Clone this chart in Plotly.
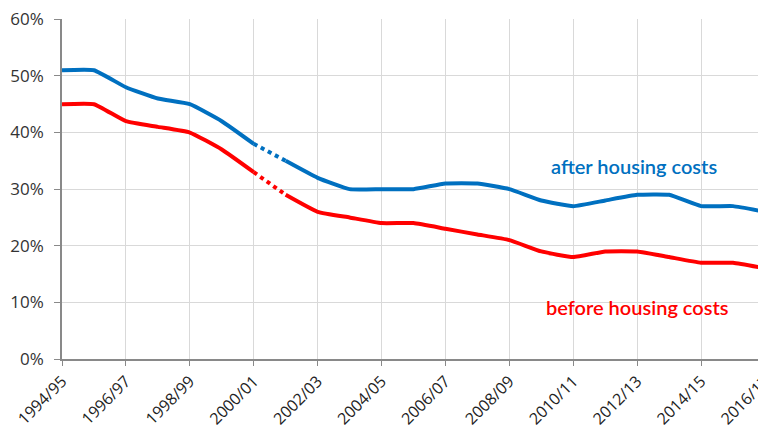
import plotly.graph_objects as go

years = ["1994/95","1995/96","1996/97","1997/98","1998/99","1999/00","2000/01","2001/02",
         "2002/03","2003/04","2004/05","2005/06","2006/07","2007/08","2008/09","2009/10",
         "2010/11","2011/12","2012/13","2013/14","2014/15","2015/16","2016/17"]
ahc = [51, 51, 48, 46, 45, 42, 38, 35, 32, 30, 30, 30, 31, 31, 30, 28, 27, 28, 29, 29, 27, 27, 26]
bhc = [45, 45, 42, 41, 40, 37, 33, 29, 26, 25, 24, 24, 23, 22, 21, 19, 18, 19, 19, 18, 17, 17, 16]
tick_labels = years[::2]
y_ticks = [0, 10, 20, 30, 40, 50, 60]
break_start, break_end = 6, 7  # dotted segment between 2000/01 and 2001/02

BLUE = "#0070C0"
RED = "#FF0000"

fig = go.Figure()

def add_series(vals, color):
    seg1 = [v if i <= break_start else None for i, v in enumerate(vals)]
    seg2 = [v if break_start <= i <= break_end else None for i, v in enumerate(vals)]
    seg3 = [v if i >= break_end else None for i, v in enumerate(vals)]
    fig.add_trace(go.Scatter(x=years, y=seg1, mode="lines",
                             line=dict(color=color, width=4, shape="spline", smoothing=0.4),
                             showlegend=False, hoverinfo="skip"))
    fig.add_trace(go.Scatter(x=years, y=seg2, mode="lines",
                             line=dict(color=color, width=4, dash="dot"),
                             showlegend=False, hoverinfo="skip"))
    fig.add_trace(go.Scatter(x=years, y=seg3, mode="lines",
                             line=dict(color=color, width=4, shape="spline", smoothing=0.4),
                             showlegend=False, hoverinfo="skip"))

add_series(ahc, BLUE)
add_series(bhc, RED)

fig.add_annotation(x=17.9, y=34.0, text="after housing costs", showarrow=False,
                   font=dict(family="Lato", size=20, color=BLUE, weight=600))
fig.add_annotation(x=18.0, y=9.2, text="before housing costs", showarrow=False,
                   font=dict(family="Lato", size=20, color=RED, weight=600))

# page body has an 8px margin, so figure is sized to fit the 766x434 window
fig.update_layout(
    width=758, height=426,
    margin=dict(l=54, r=1, t=11, b=75),
    plot_bgcolor="white", paper_bgcolor="white",
    font=dict(family="Open Sans, sans-serif", size=13, color="#333333"),
    xaxis=dict(type="category", range=[0, 22], tickvals=tick_labels, ticktext=tick_labels,
               tickangle=-45, showgrid=True, gridcolor="#d9d9d9", gridwidth=1,
               showline=True, linecolor="#898989", linewidth=1.5, automargin=False,
               ticks="outside", ticklen=5, tickcolor="#898989", ticklabeloverflow="allow",
               tickfont=dict(size=16, color="#222222")),
    yaxis=dict(range=[0, 60.05], tickvals=y_ticks, ticktext=[f"{v}%" for v in y_ticks],
               showgrid=True, gridcolor="#d9d9d9",
               gridwidth=1, showline=True, linecolor="#898989", linewidth=1.5, automargin=False,
               ticks="outside", ticklen=6, tickcolor="#898989", zeroline=False,
               ticklabeloverflow="allow", ticklabelstandoff=7,
               tickfont=dict(size=17, color="#333333")),
)

fig.write_html("out.html")
